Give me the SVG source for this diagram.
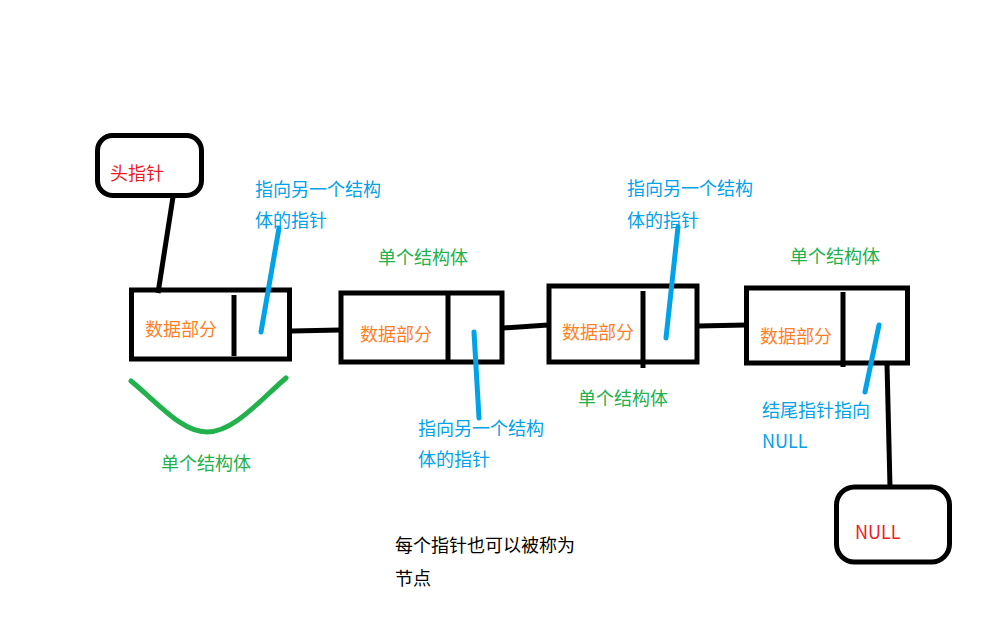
<svg xmlns="http://www.w3.org/2000/svg" width="981" height="622" viewBox="0 0 981 622">
<style>
text{font-family:"Noto Sans CJK SC","Noto Sans",sans-serif;font-size:18px}
.blk{fill:none;stroke:#000;stroke-width:5}
.ptr{fill:none;stroke:#00a2e8;stroke-width:5;stroke-linecap:round}
.or{fill:#ff7f27}
.rd{fill:#ed1c24}
.bl{fill:#00a2e8}
.gr{fill:#22b14c}
.k{fill:#000}
</style>
<rect width="981" height="622" fill="#fff"/>
<g id="connectors">
<path class="blk" d="M173,197 L158,293"/>
<path class="blk" d="M292,331 L340,330"/>
<path class="blk" d="M503,328 L548,325"/>
<path class="blk" d="M698,326 L746,325"/>
<path class="blk" d="M887,364 L890,487"/>
</g>
<g id="head">
<rect class="blk" x="97.5" y="135.5" width="104" height="60" rx="15"/>
<text class="rd" x="110" y="180">头指针</text>
</g>
<g id="node1">
<rect class="blk" x="131.5" y="290" width="158" height="69"/>
<path class="blk" d="M234,295 L234,356"/>
<text class="or" x="145" y="336">数据部分</text>
<path class="ptr" d="M279,228 L261,332"/>
<text class="bl" x="255" y="196">指向另一个结构</text>
<text class="bl" x="255" y="227">体的指针</text>
<path d="M131,381 C160,405 182,432 207,432 C234,432 260,400 286,378" fill="none" stroke="#22b14c" stroke-width="5" stroke-linecap="round"/>
<text class="gr" x="161" y="470">单个结构体</text>
</g>
<g id="node2">
<rect class="blk" x="341" y="293" width="161" height="69"/>
<path class="blk" d="M448,293 L448,362"/>
<text class="or" x="360" y="341">数据部分</text>
<path class="ptr" d="M474,332 L479,418"/>
<text class="gr" x="378" y="264">单个结构体</text>
<text class="bl" x="418" y="435">指向另一个结构</text>
<text class="bl" x="418" y="466">体的指针</text>
</g>
<g id="node3">
<rect class="blk" x="549" y="286" width="148" height="76"/>
<path class="blk" d="M643,291 L643,368"/>
<text class="or" x="562" y="339">数据部分</text>
<path class="ptr" d="M678,227 L666,338"/>
<text class="bl" x="627" y="195">指向另一个结构</text>
<text class="bl" x="627" y="227">体的指针</text>
<text class="gr" x="578" y="405">单个结构体</text>
</g>
<g id="node4">
<rect class="blk" x="746.5" y="288" width="161" height="75"/>
<path class="blk" d="M843,292 L843,367"/>
<text class="or" x="760" y="343">数据部分</text>
<path class="ptr" d="M879,325 L865,392"/>
<text class="gr" x="790" y="263">单个结构体</text>
<text class="bl" x="762" y="417">结尾指针指向</text>
<text class="bl" x="762" y="448">NULL</text>
</g>
<g id="null">
<rect class="blk" x="836.5" y="487" width="113" height="75" rx="18"/>
<text class="rd" x="855" y="539">NULL</text>
</g>
<g id="note">
<text class="k" x="395" y="552">每个指针也可以被称为</text>
<text class="k" x="395" y="585">节点</text>
</g>
</svg>
